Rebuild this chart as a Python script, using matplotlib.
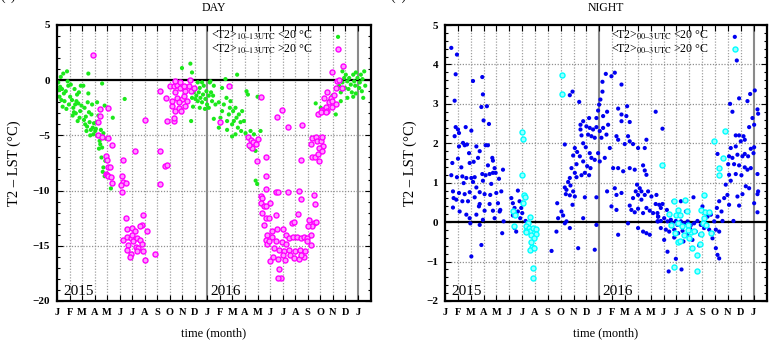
import numpy as np
import matplotlib
matplotlib.use("Agg")
import matplotlib.pyplot as plt
from matplotlib.ticker import MultipleLocator

plt.rcParams['font.family'] = ['Liberation Serif', 'DejaVu Serif']
plt.rcParams['mathtext.fontset'] = 'stix'

# ---------------- data (x = months since 1 Jan 2015) ----------------
month_labels = list("JFMAMJJASOND") * 2 + ["J"]
year_labels = ["2015", "2016"]
panel_titles = ["DAY", "NIGHT"]

# DAY, <T2>10-13UTC < 20 C (green)
day_cool = [
    (0.1,-0.2),(0.15,-0.9),(0.2,-1.5),(0.3,0.3),(0.35,-1.8),(0.4,-0.8),(0.5,0.6),(0.55,-1.2),(0.6,-1.9),
    (0.7,-1.0),(0.75,-2.6),(0.8,0.8),(0.85,-0.1),(0.9,-0.5),(0.95,-2.2),(0.45,-2.4),(0.25,-0.6),
    (1.05,-1.5),(1.1,-0.4),(1.2,-1.8),(1.3,-2.5),(1.35,-2.9),(1.4,-0.8),(1.5,-3.0),(1.55,-1.9),(1.6,-1.3),
    (1.65,-3.7),(1.7,-2.1),(1.75,-1.1),(1.8,-3.4),(1.85,-2.8),(1.9,-0.5),(1.95,-2.3),(1.25,-3.2),(1.45,-2.2),
    (2.1,-0.5),(2.15,-3.6),(2.2,-2.5),(2.3,-3.3),(2.35,-4.6),(2.4,-4.2),(2.45,-2.0),(2.5,-1.2),(2.5,0.6),
    (2.55,-2.9),(2.6,-3.8),(2.7,-4.5),(2.75,-3.1),(2.8,-2.2),(2.85,-4.3),(2.9,-4.9),(2.25,-4.0),(2.65,-5.0),(2.95,-3.9),
    (3.05,-4.6),(3.1,-4.4),(3.2,-5.0),(3.2,-2.0),(3.3,-3.2),(3.35,-6.2),(3.4,-5.5),(3.45,-5.8),(3.5,-4.5),
    (3.55,-7.0),(3.6,-6.1),(3.6,-0.3),(3.65,-8.3),(3.7,-4.8),(3.7,-7.9),(3.8,-2.3),(3.85,-7.3),(3.8,-8.7),
    (3.9,-5.3),(3.15,-3.8),(4.3,-9.8),(4.45,-3.4),(5.4,-1.7),
    (9.97,1.1),(10.64,1.5),(10.77,0.7),(10.77,-1.6),(10.91,-1.1),(11.04,-0.8),(11.12,-1.4),(11.23,-1.9),
    (11.31,-1.1),(11.39,-0.7),(11.44,-1.6),(11.57,-2.0),(11.65,-1.3),(11.71,-0.5),(11.84,-1.7),(11.92,-1.0),
    (11.97,-2.2),(12.11,-1.4),(12.19,-0.2),(12.24,-0.1),(12.29,-1.1),(12.37,-1.9),(12.45,-1.4),(12.51,-0.5),
    (11.57,-0.2),(11.23,-0.2),(10.85,-2.4),(10.7,-3.7),(11.04,-1.7),(11.39,-2.5),(11.8,-2.6),(12.11,-2.5),
    (12.64,-2.2),(12.91,-2.0),(13.04,-3.4),(13.17,-2.8),(13.31,-2.2),(13.44,0.1),(13.52,-1.6),(13.57,-3.7),
    (13.71,-3.1),(13.79,-2.5),(13.84,-1.9),(13.97,-4.0),(14.05,-2.8),(14.11,-3.7),(14.24,-2.5),(14.32,-3.4),
    (14.37,0.5),(14.43,-4.3),(14.51,-3.1),(14.64,-3.8),(14.69,-4.6),(14.77,-2.8),(14.91,-3.7),(15.04,-4.8),
    (15.12,-1.0),(15.23,-1.3),(15.31,-5.2),(15.39,-6.1),(15.44,-4.6),(15.49,-5.7),(15.57,-6.2),(15.71,-4.9),
    (15.84,-6.4),(15.85,-9.1),(15.97,-9.4),(16.24,-4.6),(13.17,-0.7),(13.57,-4.5),(12.91,-4.3),(13.97,-5.1),
    (14.24,-4.9),(12.51,-3.5),(16.0,-1.5),
    (20.64,-2.1),(21.04,-2.5),(21.31,-2.9),(21.71,-1.9),(21.97,-1.4),(22.24,-3.1),(22.37,-0.8),(22.51,-0.5),
    (22.64,-1.1),(22.77,-0.2),(22.91,0.2),(22.99,-0.7),(23.04,0.5),(23.17,-0.1),(23.25,-0.8),(23.31,0.2),
    (23.44,-0.4),(23.52,-1.1),(23.63,0.5),(23.71,-0.1),(23.79,-0.5),(23.84,0.7),(23.97,0.2),(24.11,-0.7),
    (24.16,-0.2),(24.24,0.5),(24.32,-1.0),(24.37,0.1),(24.43,-1.6),(24.51,0.8),(24.59,-0.5),(23.17,-1.6),
    (23.63,-1.5),(23.84,-1.2),(22.77,0.8),(22.64,-1.9),
]

# DAY, <T2>10-13UTC > 20 C (magenta)
day_warm = [
    (2.9,2.3),(3.3,-3.8),(3.3,-5.0),(3.4,-2.6),(3.4,-3.2),(3.6,-5.1),(4.1,-2.5),(4.1,-5.2),(4.4,-5.9),
    (3.9,-6.9),(4.0,-7.2),(4.1,-7.9),(4.2,-7.9),(3.9,-8.5),(4.0,-8.6),(4.1,-8.7),(4.3,-8.8),(4.4,-9.3),
    (5.3,-7.2),(5.2,-8.7),(5.3,-9.2),(5.1,-9.5),(5.5,-9.3),(5.2,-10.1),(6.2,-6.4),(7.0,-3.6),
    (5.5,-12.5),(6.9,-12.2),(6.8,-13.1),(5.6,-13.5),(6.0,-13.4),(6.2,-13.7),(6.6,-13.2),(7.2,-13.7),
    (5.3,-14.5),(5.6,-14.2),(5.9,-14.3),(6.1,-14.6),(6.4,-14.3),(6.6,-14.5),(6.8,-14.8),(5.7,-14.9),
    (6.3,-15.1),(6.5,-15.2),(5.6,-15.4),(5.9,-15.7),(6.9,-15.5),(7.0,-16.3),(7.8,-15.7),(5.8,-16.0),
    (6.4,-15.5),(6.0,-14.0),
    (8.2,-1.0),(8.2,-6.4),(8.2,-9.4),(8.77,-3.7),(8.6,-7.8),(8.8,-7.7),(9.31,-3.7),(9.31,-3.4),(9.44,-2.8),
    (9.17,-2.3),(9.04,-0.5),(9.31,-0.5),(9.57,-0.4),(9.44,-1.1),(9.57,-1.6),(9.71,-2.5),(9.84,-0.7),
    (9.97,-1.7),(10.11,-1.4),(10.24,-1.0),(10.37,-1.9),(9.71,-2.0),(9.89,-2.8),(10.51,-0.5),(10.64,0.0),
    (10.69,-1.0),(10.91,-0.7),(10.11,-0.5),(9.84,-0.2),(9.44,-0.1),(10.24,-2.3),(9.17,-1.9),(8.72,-1.6),
    (13.04,-3.8),(13.71,-0.5),(16.24,-1.5),(15.23,-5.1),(15.44,-5.4),(15.65,-5.6),(15.84,-5.8),(15.57,-6.1),
    (15.31,-5.9),(15.97,-7.3),(16.0,-5.3),(16.24,-10.5),(16.37,-10.7),(16.24,-11.1),(16.51,-11.4),
    (16.37,-12.0),(16.64,-12.5),(16.51,-13.1),(16.77,-14.0),(16.64,-14.5),(16.77,-14.8),
    (17.97,-2.7),(17.57,-3.3),(18.45,-4.2),(19.57,-4.1),(19.44,-7.2),(16.64,-7.0),(16.64,-8.7),(16.64,-9.9),
    (17.44,-10.1),(17.65,-10.1),(18.45,-10.1),(19.31,-10.0),(19.44,-10.8),(20.51,-10.4),(20.59,-11.2),
    (16.96,-11.1),(16.64,-11.4),(19.25,-12.1),(17.49,-12.2),(16.91,-12.5),(18.77,-12.9),(18.91,-12.8),
    (20.11,-12.7),(20.51,-12.9),(20.64,-12.8),(20.37,-13.2),(20.05,-13.2),(17.17,-13.7),(17.57,-13.5),
    (18.03,-13.5),(18.24,-14.0),(17.12,-14.2),(18.51,-14.3),(18.83,-14.2),(19.17,-14.2),(19.44,-14.3),
    (19.71,-14.2),(19.97,-14.3),(20.24,-14.0),(16.91,-14.6),(17.44,-14.6),(17.92,-14.7),(18.3,-14.8),
    (19.97,-14.6),(20.24,-14.9),(17.3,-15.2),(17.7,-15.4),(18.1,-15.5),(18.5,-15.4),(19.0,-15.5),
    (19.4,-15.4),(19.8,-15.5),(17.2,-16.0),(17.6,-16.2),(18.0,-15.8),(18.6,-15.8),(18.9,-16.1),
    (19.3,-16.2),(19.7,-16.0),(17.7,-17.1),(17.0,-16.4),(18.2,-16.3),(17.9,-17.9),(17.6,-17.9),(19.5,-15.8),
    (20.37,-5.2),(20.24,-5.8),(20.64,-5.1),(20.77,-5.5),(21.04,-5.5),(21.17,-5.1),(21.23,-6.0),(20.91,-6.1),
    (20.37,-7.0),(20.59,-7.0),(20.85,-6.7),(20.91,-7.3),(21.17,-6.4),(20.85,-3.1),(21.17,-2.7),(21.39,-2.6),
    (21.49,-2.4),(21.57,-2.8),(21.71,-2.0),(21.31,-1.6),(21.84,-1.6),(21.92,-1.9),(22.11,-1.3),(21.57,-1.1),
    (22.24,-0.7),(21.97,-2.4),(22.37,-0.1),(22.51,0.0),(22.83,1.3),(21.92,0.7),(22.72,-0.7),(22.29,-2.2),
    (21.04,-2.9),(21.44,-2.9),
]

# NIGHT, <T2>00-3UTC < 20 C (blue)
night_cool = [
    (0.49,4.42),(0.93,4.25),(0.83,3.75),(0.75,3.08),(2.18,3.58),(2.9,3.68),(2.95,3.24),(2.83,2.92),
    (3.26,2.94),(3.0,2.58),(3.42,2.49),(0.83,2.41),(1.01,2.35),(0.75,2.18),(1.09,2.26),(1.61,2.41),
    (2.05,2.32),(1.4,2.01),(1.53,1.95),(1.71,1.97),(1.09,1.92),(2.44,1.92),(2.7,1.8),(3.16,1.95),
    (3.34,1.95),(1.87,1.75),(0.57,1.5),(1.01,1.61),(1.27,1.39),(1.92,1.5),(2.23,1.53),(2.57,1.63),
    (3.68,1.63),(3.73,1.56),(3.34,1.44),(3.86,1.37),(4.51,1.33),(0.49,1.19),(0.93,1.14),(1.35,1.16),
    (1.66,1.12),(2.05,1.12),(2.31,1.14),(2.9,1.22),(3.16,1.19),(3.47,1.22),(3.73,1.25),(3.94,1.25),
    (1.45,0.99),(2.18,1.02),(2.44,0.88),(2.95,1.05),(3.6,0.97),(4.2,1.1),(0.62,0.78),(1.09,0.74),
    (1.53,0.71),(1.92,0.76),(2.7,0.76),(3.08,0.71),(3.52,0.69),(3.99,0.74),(4.38,0.78),(0.67,0.61),
    (0.88,0.57),(1.35,0.53),(1.79,0.53),(2.31,0.63),(2.7,0.46),(3.47,0.46),(4.12,0.48),(4.3,0.31),
    (0.62,0.37),(1.14,0.27),(1.66,0.19),(1.92,0.1),(2.44,0.19),(3.08,0.29),(3.73,0.29),(3.86,0.1),
    (4.25,0.27),(2.64,0.4),(2.95,0.06),(1.97,-0.03),(2.7,-0.07),(4.56,0.02),(4.45,-0.28),(2.83,-0.58),
    (2.05,-0.87),(8.29,-0.73),
    (5.16,0.61),(5.28,0.48),(5.41,0.36),(5.67,0.8),(5.8,0.53),(5.93,0.36),(6.01,0.23),(5.85,0.1),
    (5.54,0.19),(5.28,0.17),(6.06,0.48),(5.67,0.27),(5.41,-0.15),(5.54,-0.24),(6.27,0.03),
    (9.71,3.22),(9.92,3.31),(10.44,3.05),(12.51,3.76),(12.95,3.7),(13.21,3.79),(12.25,3.56),(13.73,3.49),
    (12.25,3.31),(12.09,3.11),(11.99,2.98),(11.91,2.83),(13.47,2.88),(14.17,2.94),(14.11,2.69),(13.73,2.73),
    (16.39,2.8),(12.61,2.8),(12.3,2.69),(11.78,2.64),(11.21,2.64),(10.75,2.56),(11.0,2.43),(11.26,2.39),
    (11.52,2.35),(11.78,2.41),(12.04,2.31),(12.3,2.39),(12.69,2.47),(10.54,2.47),(10.54,2.35),(10.62,2.2),
    (11.13,2.22),(11.39,2.18),(11.65,2.14),(12.17,2.14),(12.56,2.22),(13.34,2.18),(13.47,2.09),(13.73,2.56),
    (14.37,2.54),(15.67,2.09),(14.24,2.18),(14.37,2.05),(14.63,1.98),(15.02,1.88),(15.54,1.88),(13.98,1.98),
    (9.32,1.97),(10.1,1.88),(10.75,2.0),(10.95,1.9),(10.28,1.78),(9.97,1.69),(10.49,1.67),(11.26,1.75),
    (11.91,1.75),(11.39,1.63),(11.65,1.58),(12.04,1.54),(12.43,1.63),(10.75,1.54),(10.23,1.47),(11.06,1.42),
    (11.32,1.37),(10.88,1.25),(11.21,1.19),(10.62,1.19),(10.23,1.14),(9.84,1.37),(10.1,1.25),(9.71,1.12),
    (9.58,1.02),(9.76,0.93),(9.45,0.82),(9.4,0.71),(9.71,0.68),(9.97,0.78),(10.1,0.65),(9.92,0.44),
    (10.88,0.63),(11.78,0.63),(12.61,0.78),(13.21,0.86),(13.34,0.69),(13.73,0.74),(13.08,1.37),(12.82,1.88),
    (13.47,1.37),(13.86,1.29),(14.37,1.37),(14.76,1.33),(15.41,1.44),(15.54,1.31),(15.67,1.2),(14.94,0.95),
    (15.15,0.86),(15.28,0.78),(14.84,0.78),(15.02,0.69),(14.63,0.61),(15.28,0.57),(15.54,0.69),(15.8,0.78),
    (16.06,0.65),(16.39,0.46),(16.45,0.69),(15.93,0.29),(16.19,0.23),(16.57,0.14),(14.37,0.42),(14.5,0.31),
    (14.76,0.25),(15.02,0.34),(15.41,0.23),(15.67,0.36),(12.95,0.4),(13.34,0.31),(8.73,0.48),(9.06,0.27),
    (9.19,0.17),(9.32,-0.03),(9.45,0.02),(10.75,0.1),(8.67,-0.24),(10.36,-0.66),(11.65,-0.7),(11.78,-0.07),
    (13.47,-0.32),(14.24,-0.03),(15.02,-0.15),(15.41,-0.24),(15.67,-0.28),(15.93,-0.32),(16.57,0.02),
    (9.71,-0.15),(8.8,0.1),(9.32,0.88),
    (16.66,0.44),(16.53,0.02),(16.79,0.03),(17.05,0.1),(17.31,0.02),(17.57,0.06),(17.7,-0.03),(17.96,0.03),
    (18.09,-0.07),(18.35,0.02),(18.61,-0.03),(18.87,0.02),(19.12,-0.08),(19.38,-0.03),(19.64,0.03),
    (19.9,-0.07),(20.16,0.02),(20.42,0.14),(20.68,0.19),(20.94,0.02),(21.2,0.14),(21.59,0.03),(16.79,-0.15),
    (17.18,-0.19),(17.44,-0.24),(17.83,-0.19),(18.14,-0.28),(18.48,-0.22),(18.81,-0.32),(19.07,-0.17),
    (19.51,-0.24),(19.85,-0.32),(20.16,-0.15),(20.55,-0.19),(20.81,-0.28),(21.07,-0.19),(21.33,-0.24),
    (16.53,0.23),(16.79,0.36),(16.92,0.46),(17.26,0.31),(17.78,0.53),(18.35,0.53),(18.74,0.27),(19.33,0.63),
    (20.03,0.4),(20.42,0.23),(17.05,-0.45),(17.83,-0.39),(18.55,-0.49),(19.25,-0.45),(19.77,-0.59),
    (20.81,-0.41),(21.2,-0.83),(21.33,-0.92),(21.07,-0.66),(17.31,-0.75),(17.4,-1.25),(17.96,-0.93),
    (16.59,0.14),(18.4,-1.2),
    (22.7,4.1),(16.92,2.37),(21.2,1.73),(24.1,3.34),(23.74,3.25),(22.88,3.14),(22.18,3.0),(22.36,2.8),
    (23.53,3.07),(24.31,2.86),(24.36,2.75),(23.92,2.64),(24.05,2.47),(23.66,2.41),(22.62,2.2),(22.88,2.2),
    (23.22,2.18),(23.32,2.09),(23.01,2.05),(22.62,1.92),(23.79,1.86),(24.05,1.9),(22.23,1.88),(22.75,1.71),
    (23.14,1.67),(23.32,1.73),(23.58,1.67),(24.0,1.75),(22.1,1.67),(22.36,1.63),(22.03,1.47),(22.49,1.47),
    (22.88,1.44),(23.32,1.39),(23.53,1.33),(23.79,1.37),(24.31,1.22),(22.1,1.2),(22.62,1.22),(23.06,1.19),
    (21.84,0.95),(22.23,1.05),(23.4,0.91),(23.66,0.86),(24.36,0.78),(24.31,0.71),(23.14,0.71),(21.97,0.69),
    (21.33,0.53),(21.72,0.61),(22.75,0.65),(22.1,0.44),(24.05,0.48),(22.88,0.42),(24.31,0.25),(21.15,0.36),
    (21.51,0.27),(22.44,0.03),
]

# NIGHT, <T2>00-3UTC > 20 C (cyan)
night_warm = [
    (6.0,2.29),(6.06,2.12),(6.0,1.19),(6.11,0.68),(6.19,0.65),(6.06,0.48),(5.28,0.27),(5.41,0.19),
    (6.63,0.12),(6.45,-0.03),(6.32,-0.11),(6.53,-0.15),(6.63,-0.22),(6.27,-0.22),(6.84,-0.15),(7.1,-0.17),
    (7.05,-0.31),(6.71,-0.32),(6.89,-0.41),(6.79,-0.62),(6.63,-0.7),(6.89,-0.66),(6.71,-0.51),(5.34,-0.11),
    (6.84,-1.17),(6.84,-1.41),(6.32,-0.24),
    (9.14,3.73),(9.14,3.25),
    (21.77,2.32),(20.89,2.07),(16.92,1.46),(21.59,1.63),(21.33,1.37),(21.33,1.2),(20.16,0.68),(18.66,0.57),
    (17.83,0.53),(17.44,0.2),(18.09,0.31),(18.81,0.29),(17.96,0.19),(18.3,0.17),(19.9,0.31),(20.21,0.25),
    (20.55,0.25),(20.16,0.1),(17.57,-0.07),(18.14,-0.03),(18.4,-0.11),(18.87,-0.08),(19.12,-0.24),
    (19.38,-0.22),(20.11,-0.03),(20.29,-0.07),(17.88,-0.28),(18.09,-0.51),(18.3,-0.47),(18.61,-0.32),
    (18.92,-0.19),(18.99,-0.39),(19.25,-0.66),(19.64,-0.83),(19.95,-0.31),(20.73,-0.28),(17.83,-1.13),
    (19.59,-1.24),(19.85,-0.56),
]

# ---------------- figure ----------------
W, H = 783, 348
fig = plt.figure(figsize=(W / 100, H / 100), dpi=100)
axL = fig.add_axes([57 / W, 47 / H, 314 / W, 276 / H])
axR = fig.add_axes([445 / W, 47 / H, 322 / W, 276 / H])

GREEN = '#1be81b'
MAGENTA = '#ff00ff'
MAG_FILL = '#ff99ff'
BLUE = '#0000f0'
CYAN = '#00ffff'
CYAN_FILL = '#99ffff'
S_DOT = 9
S_RING = 13


def style(ax, ylim, major, minor, hgrid):
    ax.set_xlim(0, 25.05)
    ax.set_ylim(*ylim)
    ax.set_xticks(range(25))
    ax.set_xticklabels(month_labels, fontweight='bold', fontsize=7.5)
    ax.yaxis.set_major_locator(MultipleLocator(major))
    ax.yaxis.set_minor_locator(MultipleLocator(minor))
    for lab in ax.get_yticklabels():
        lab.set_fontweight('bold')
        lab.set_fontsize(8)
    ax.tick_params(axis='both', which='both', direction='in', top=True, right=True, width=0.8)
    ax.tick_params(which='major', length=4)
    ax.tick_params(which='minor', length=2.5)
    ax.tick_params(axis='x', pad=5)
    ax.tick_params(axis='y', pad=5)
    for m in range(1, 25):
        if m % 12 == 0:
            ax.axvline(m, color='#8a8a8a', lw=1.5, zorder=1)
        else:
            ax.axvline(m, color='#a0a0a0', lw=0.9, ls=(0, (1, 1.3)), zorder=1)
    for yv in hgrid:
        ax.axhline(yv, color='#909090', lw=0.9, ls=(0, (1, 1.3)), zorder=1)
    ax.axhline(0, color='black', lw=1.6, zorder=2)
    for s in ax.spines.values():
        s.set_linewidth(1.6)
        s.set_zorder(5)


style(axL, (-20, 5), 5, 1, [-15, -10, -5])
style(axR, (-2, 5), 1, 0.2, [-1, 1, 2, 3, 4])

dc = np.array(day_cool); dw = np.array(day_warm)
nc = np.array(night_cool); nw = np.array(night_warm)

axL.scatter(dc[:, 0], dc[:, 1], s=S_DOT, color=GREEN, edgecolors='none', zorder=3)
axL.scatter(dw[:, 0], dw[:, 1], s=S_RING, facecolors=MAG_FILL, edgecolors=MAGENTA, linewidths=1.0, zorder=3)
axR.scatter(nc[:, 0], nc[:, 1], s=S_DOT, color=BLUE, edgecolors='none', zorder=3)
axR.scatter(nw[:, 0], nw[:, 1], s=S_RING, facecolors=CYAN_FILL, edgecolors=CYAN, linewidths=1.0, zorder=3)

# key
for ax, sub, tx in [(axL, '10\u201313UTC', 0.815), (axR, '00\u20133UTC', 0.818)]:
    ax.text(tx, 0.950, r"<T2>$_{\mathrm{" + sub + r"}}$ <20 °C", transform=ax.transAxes,
            ha='right', va='baseline', fontsize=8.6)
    ax.text(tx, 0.900, r"<T2>$_{\mathrm{" + sub + r"}}$ >20 °C", transform=ax.transAxes,
            ha='right', va='baseline', fontsize=8.6)
axL.scatter([0.895], [0.957], s=S_DOT, color=GREEN, edgecolors='none', transform=axL.transAxes, zorder=4, clip_on=False)
axL.scatter([0.895], [0.913], s=S_RING, facecolors=MAG_FILL, edgecolors=MAGENTA, linewidths=1.0,
            transform=axL.transAxes, zorder=4, clip_on=False)
axR.scatter([0.90], [0.957], s=S_DOT, color=BLUE, edgecolors='none', transform=axR.transAxes, zorder=4, clip_on=False)
axR.scatter([0.90], [0.913], s=S_RING, facecolors=CYAN_FILL, edgecolors=CYAN, linewidths=1.0,
            transform=axR.transAxes, zorder=4, clip_on=False)

# year labels
for ax in (axL, axR):
    ax.text(0.02, 0.022, year_labels[0], transform=ax.transAxes, fontsize=11, va='baseline', zorder=6)
    ax.text(0.49, 0.022, year_labels[1], transform=ax.transAxes, fontsize=11, va='baseline', zorder=6)

# titles and axis labels
fig.text(214 / W, 1 - 10.7 / H, panel_titles[0], ha='center', va='baseline', fontsize=8.5)
fig.text(606 / W, 1 - 10.7 / H, panel_titles[1], ha='center', va='baseline', fontsize=8.5)
fig.text(214 / W, 1 - 336 / H, 'time (month)', ha='center', va='baseline', fontsize=9)
fig.text(606 / W, 1 - 336 / H, 'time (month)', ha='center', va='baseline', fontsize=9)
fig.text(14 / W, 1 - 163 / H, 'T2 \u2013 LST (°C)', rotation=90, ha='center', va='center', fontsize=10.5)
fig.text(410 / W, 1 - 163 / H, 'T2 \u2013 LST (°C)', rotation=90, ha='center', va='center', fontsize=10.5)
fig.text(0.0, 1.0, '(a)', ha='left', va='baseline', fontsize=10)
fig.text(390 / W, 1.0, '(b)', ha='left', va='baseline', fontsize=10)

fig.savefig('out.png', dpi=100)
